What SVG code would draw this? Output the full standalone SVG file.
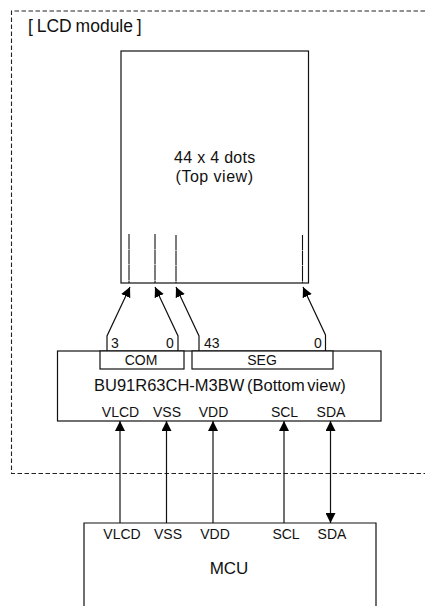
<svg xmlns="http://www.w3.org/2000/svg" width="425" height="606" viewBox="0 0 425 606">
<style>
text{font-family:"Liberation Sans",Arial,sans-serif;fill:#111;font-size:14px}
.l{font-size:16.500px;word-spacing:-2px}
.m{font-size:17.500px;word-spacing:-1px}
.d{font-size:16px;letter-spacing:.3px}
.t{font-size:16px;letter-spacing:.5px}
.b{fill:#fff;stroke:#111;stroke-width:1.200}
.n{fill:none;stroke:#111;stroke-width:1.100}
.c{text-anchor:middle}
.w{fill:none;stroke:#111;stroke-width:1.200;marker-end:url(#a)}
</style>
<defs><marker id="a" viewBox="0 0 10 10" refX="10" refY="5" markerWidth="10" markerHeight="10" markerUnits="userSpaceOnUse" orient="auto"><path d="M0 0L10 5L0 10Z" fill="#000"/></marker>
<marker id="r" viewBox="0 0 10 10" refX="10" refY="5" markerWidth="10" markerHeight="10" markerUnits="userSpaceOnUse" orient="auto-start-reverse"><path d="M0 0L10 5L0 10Z" fill="#000"/></marker></defs>
<g id="lcd-module"><path d="M425 11H11.500V473.500H425" fill="none" stroke="#222" stroke-width="1.100" stroke-dasharray="4.500 2.500"/><text class="m" x="28" y="32">[ LCD module ]</text></g>
<g id="lcd"><rect class="b" x="121" y="51" width="187.500" height="232"/>
<text class="d c" x="214.800" y="163">44 x 4 dots</text><text class="t c" x="214.500" y="181.500">(Top view)</text>
<path class="n" stroke-dasharray="15 .5" d="M129 234V283M155 234V283M176 235V283M302.500 235V283"/></g>
<g id="driver"><rect class="b" x="57.500" y="351" width="323.500" height="70"/>
<rect class="b" x="100" y="351" width="84" height="18"/><rect class="b" x="192" y="351" width="141" height="18"/>
<text class="c" x="141" y="365">COM</text><text class="c" x="262" y="365">SEG</text>
<text class="l" x="94" y="391">BU91R63CH-M3BW (Bottom view)</text>
<text class="c" x="120.500" y="417">VLCD</text><text class="c" x="167" y="417">VSS</text><text class="c" x="213.500" y="417">VDD</text><text class="c" x="284.500" y="417">SCL</text><text class="c" x="331" y="417">SDA</text>
<text x="111" y="348">3</text><text x="166" y="348">0</text><text x="204" y="348">43</text><text x="314" y="348">0</text></g>
<g id="mcu"><path class="b" d="M84 606V523H376V606"/>
<text class="c" x="122" y="539">VLCD</text><text class="c" x="168" y="539">VSS</text><text class="c" x="215" y="539">VDD</text><text class="c" x="286" y="539">SCL</text><text class="c" x="332" y="539">SDA</text>
<text class="c" x="229" y="574" style="font-size:17px">MCU</text></g>
<g id="connectors">
<path class="w" d="M107 351V336L130 287"/><path class="w" d="M178 351V336L155 287"/><path class="w" d="M199 351V336L176 287"/><path class="w" d="M325.500 351V335L303 287"/>
<path class="w" d="M120 523V421"/><path class="w" d="M166.500 523V421"/><path class="w" d="M213 523V421"/><path class="w" d="M284 523V421"/>
<path d="M330.500 523V421" fill="none" stroke="#111" stroke-width="1.200" marker-start="url(#r)" marker-end="url(#r)"/>
</g>
</svg>
